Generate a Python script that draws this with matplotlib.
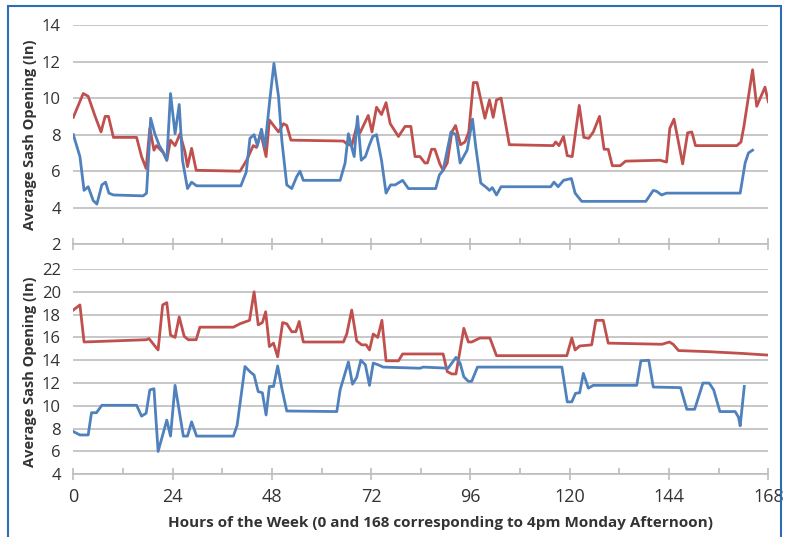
import numpy as np
import matplotlib.pyplot as plt
from matplotlib.patches import Rectangle
from matplotlib.ticker import MultipleLocator

# 上图：红线
top_red_h = [0, 2.4, 3.6, 5.2, 6.7, 7.7, 8.5, 9.7, 15.3, 16.5, 17.6, 18.5, 19.5, 20.1, 21.8, 22.6,
             23.5, 24.6, 25.8, 27.0, 27.6, 28.6, 29.7, 40.3, 41.9, 43.5, 44.3, 45.3, 46.6, 47.4,
             49.6, 50.8, 51.6, 52.6, 65.3, 66.1, 67.3, 68.5, 69.3, 71.3, 72.2, 73.3, 74.5, 75.6,
             76.6, 78.6, 80.2, 81.6, 82.6, 83.8, 85.0, 85.6, 86.6, 87.4, 88.6, 89.4, 90.4, 91.5,
             92.4, 93.6, 94.7, 95.6, 96.7, 97.6, 99.5, 100.6, 101.5, 102.3, 103.4, 105.4, 116.0,
             116.6, 117.4, 118.5, 119.4, 120.6, 122.3, 123.4, 124.6, 125.7, 127.2, 128.3, 129.3,
             130.3, 132.2, 133.5, 141.8, 143.4, 144.2, 145.2, 147.3, 148.5, 149.5, 150.4, 160.4,
             161.4, 162.1, 164.2, 165.2, 167.2, 168.0]
top_red_v = [8.95, 10.25, 10.1, 9.05, 8.15, 9.0, 9.0, 7.85, 7.85, 6.8, 6.15, 8.35, 7.15, 7.4, 7.0, 6.6,
             7.7, 7.4, 8.05, 7.05, 6.25, 7.25, 6.05, 6.0, 6.6, 7.4, 7.3, 8.1, 6.8, 8.8,
             8.15, 8.6, 8.5, 7.7, 7.65, 7.5, 7.4, 8.45, 8.1, 9.05, 8.15, 9.5, 9.1, 9.75,
             8.6, 7.9, 8.45, 8.45, 6.8, 6.8, 6.45, 6.45, 7.2, 7.2, 6.4, 6.05, 6.45, 8.15,
             8.5, 7.45, 7.6, 8.15, 10.85, 10.85, 8.9, 9.9, 8.95, 9.9, 10.0, 7.45, 7.4,
             7.6, 7.4, 7.9, 6.85, 6.8, 9.6, 7.85, 7.8, 8.15, 9.0, 7.2, 7.2,
             6.3, 6.3, 6.55, 6.6, 6.5, 8.35, 8.85, 6.4, 8.1, 8.15, 7.4, 7.4,
             7.6, 8.45, 11.55, 9.55, 10.6, 9.8]

# 上图：蓝线
top_blue_h = [0, 1.6, 2.6, 3.6, 4.8, 5.7, 6.9, 7.8, 8.6, 9.7, 16.9, 17.7, 18.3, 18.7, 19.7, 20.8,
              21.6, 22.6, 23.5, 24.6, 25.6, 26.4, 27.6, 28.6, 29.8, 40.5, 41.8, 42.7, 43.7, 44.5,
              45.5, 46.3, 47.5, 48.5, 49.6, 50.4, 51.6, 52.8, 54.0, 54.8, 55.6, 64.5, 65.7, 66.5,
              67.3, 67.9, 68.7, 69.6, 70.6, 71.6, 72.4, 73.3, 74.5, 75.6, 76.7, 77.8, 79.6, 81.0,
              87.6, 88.5, 89.4, 91.3, 92.5, 93.5, 95.2, 96.5, 97.3, 98.5, 99.9, 100.6, 101.3, 102.3,
              103.4, 115.4, 116.2, 117.2, 118.5, 120.4, 121.3, 122.9, 138.4, 140.2, 141.0, 142.2,
              143.4, 161.2, 162.4, 163.2, 164.2]
top_blue_v = [8.0, 6.8, 4.95, 5.15, 4.4, 4.2, 5.25, 5.4, 4.8, 4.7, 4.65, 4.8, 7.15, 8.9, 8.05, 7.4,
              7.1, 6.6, 10.25, 8.05, 9.65, 6.6, 5.05, 5.4, 5.2, 5.2, 5.95, 7.8, 8.0, 7.4,
              8.3, 7.3, 9.9, 11.9, 10.1, 7.7, 5.25, 5.05, 5.7, 6.0, 5.5, 5.5, 6.45, 8.05,
              7.3, 6.8, 9.0, 6.6, 6.8, 7.45, 7.9, 8.0, 6.6, 4.8, 5.25, 5.25, 5.5, 5.05,
              5.05, 5.8, 6.05, 8.15, 8.0, 6.45, 7.15, 8.85, 7.3, 5.35, 5.1, 4.95, 5.1, 4.7,
              5.15, 5.15, 5.4, 5.15, 5.5, 5.6, 4.8, 4.35, 4.35, 4.95, 4.9, 4.7,
              4.8, 4.8, 6.45, 7.0, 7.15]

# 下图：红线
bot_red_h = [0, 1.6, 2.6, 17.7, 18.3, 19.5, 20.5, 21.6, 22.6, 23.5, 24.6, 25.6, 26.8, 27.8, 29.7,
             30.6, 38.7, 40.3, 42.6, 43.7, 44.7, 45.7, 46.5, 47.4, 48.4, 49.4, 50.6, 51.6, 52.8,
             53.8, 54.6, 55.6, 65.3, 66.1, 67.3, 68.5, 69.7, 70.8, 71.6, 72.5, 73.6, 74.6, 75.6,
             78.6, 79.6, 89.4, 90.4, 91.5, 92.5, 94.4, 95.5, 96.3, 98.3, 100.7, 102.3, 119.3,
             120.5, 121.3, 122.4, 125.3, 126.3, 128.1, 129.3, 142.3, 144.1, 145.0, 146.3, 153.6,
             161.6, 168.0]
bot_red_v = [18.4, 18.85, 15.6, 15.8, 15.9, 15.35, 14.9, 18.85, 19.05, 16.2, 16.0, 17.8, 16.1, 15.8, 15.8,
             16.9, 16.9, 17.2, 17.5, 20.0, 17.1, 17.3, 18.25, 15.2, 15.5, 14.3, 17.3, 17.2, 16.5,
             16.5, 17.4, 15.6, 15.6, 16.3, 18.4, 15.7, 15.35, 15.35, 14.9, 16.3, 16.0, 17.5, 13.95,
             13.95, 14.55, 14.55, 13.0, 12.8, 12.8, 16.8, 15.6, 15.6, 15.95, 15.95, 14.4, 14.4,
             15.95, 14.9, 15.25, 15.35, 17.5, 17.5, 15.5, 15.4, 15.6, 15.4, 14.85, 14.75,
             14.6, 14.45]

# 下图：蓝线
bot_blue_h = [0, 1.6, 3.6, 4.4, 5.6, 6.9, 15.3, 16.5, 17.6, 18.5, 19.5, 20.5, 22.6, 23.5, 24.6, 26.6,
              27.6, 28.6, 29.8, 38.7, 39.6, 41.5, 42.7, 43.7, 44.7, 45.7, 46.6, 47.4, 48.4, 49.4,
              50.4, 51.6, 63.7, 64.5, 66.5, 67.5, 68.5, 69.5, 70.6, 71.6, 72.5, 73.7, 74.9, 83.8,
              84.6, 90.6, 92.5, 93.5, 94.4, 95.5, 96.3, 97.7, 118.1, 119.4, 120.5, 121.4, 122.4,
              123.3, 124.5, 125.7, 136.2, 137.2, 139.1, 140.2, 146.8, 148.3, 150.2, 152.2, 153.7,
              154.8, 156.3, 160.0, 160.8, 161.2, 162.2]
bot_blue_v = [7.75, 7.45, 7.45, 9.4, 9.4, 10.05, 10.05, 9.1, 9.35, 11.4, 11.5, 6.0, 8.75, 7.35, 11.8, 7.35,
              7.35, 8.6, 7.35, 7.35, 8.3, 13.45, 13.0, 12.7, 11.25, 11.15, 9.2, 11.7, 11.7, 13.5,
              11.55, 9.55, 9.5, 11.4, 13.85, 11.9, 12.5, 14.0, 13.6, 11.8, 13.75, 13.6, 13.4, 13.3,
              13.4, 13.3, 14.25, 13.75, 12.55, 12.15, 12.15, 13.4, 13.4, 10.35, 10.35, 11.1, 11.15,
              12.85, 11.55, 11.8, 11.8, 13.95, 14.0, 11.65, 11.6, 9.7, 9.7, 12.0, 12.0,
              11.4, 9.5, 9.5, 9.0, 8.25, 11.7]

RED = '#C0504D'
BLUE = '#4F81BD'
GRID = '#BDBDBD'
TXT = '#333333'

plt.rcParams['font.family'] = ['Open Sans', 'DejaVu Sans']

fig = plt.figure(figsize=(7.87, 5.37), dpi=100)
W, H = 787.0, 537.0


def px_axes(x0, y0, x1, y1):
    # 像素坐标（左上为原点）转成 figure 坐标
    return fig.add_axes([x0 / W, 1 - y1 / H, (x1 - x0) / W, (y1 - y0) / H])


def style(ax, ymin, ymax, show_x):
    ax.set_xlim(0, 168)
    ax.set_ylim(ymin, ymax)
    ax.yaxis.set_major_locator(MultipleLocator(2))
    ax.xaxis.set_major_locator(MultipleLocator(24))
    ax.xaxis.set_minor_locator(MultipleLocator(12))
    ax.grid(axis='y', color=GRID, linewidth=1.2)
    ax.set_axisbelow(True)
    for s in ['top', 'right', 'left']:
        ax.spines[s].set_visible(False)
    ax.spines['bottom'].set_color(GRID)
    ax.spines['bottom'].set_linewidth(1.2)
    ax.tick_params(axis='y', length=0, labelsize=12, labelcolor=TXT, pad=9)
    ax.tick_params(axis='x', which='major', direction='inout', length=8, color=GRID,
                   width=1.2, labelsize=13, labelcolor=TXT, pad=6)
    ax.tick_params(axis='x', which='minor', direction='in', length=4.5, color=GRID, width=1.2)
    if not show_x:
        ax.tick_params(axis='x', labelbottom=False)
    ax.set_ylabel('Average Sash Opening (In)', fontsize=10.5, fontweight='bold', color=TXT)
    # ylabel 中心约在 x=30px
    ax.yaxis.set_label_coords((30 - 73.3) / 695.0, 0.5)
    ax.yaxis.label.set_va('center')


ax1 = px_axes(73.3, 25, 768.3, 244.3)
ax1.plot(top_red_h, top_red_v, color=RED, linewidth=2)
ax1.plot(top_blue_h, top_blue_v, color=BLUE, linewidth=2)
style(ax1, 2, 14, False)

ax2 = px_axes(73.3, 269, 768.3, 474.3)
ax2.plot(bot_red_h, bot_red_v, color=RED, linewidth=2)
ax2.plot(bot_blue_h, bot_blue_v, color=BLUE, linewidth=2)
style(ax2, 4, 22, True)
ax2.set_xlabel('Hours of the Week (0 and 168 corresponding to 4pm Monday Afternoon)',
               fontsize=11, fontweight='bold', color=TXT)
ax2.xaxis.set_label_coords((440 - 73.3) / 695.0, -(523 - 474.3) / 205.3)
ax2.xaxis.label.set_va('center')

# 外框
fig.patches.append(Rectangle((7.5 / W, -0.05), (781 - 7.5) / W, 1.05 - 6 / H,
                             transform=fig.transFigure, fill=False,
                             edgecolor='#2E6DB4', linewidth=1.5))

fig.savefig('out.png', dpi=100)
